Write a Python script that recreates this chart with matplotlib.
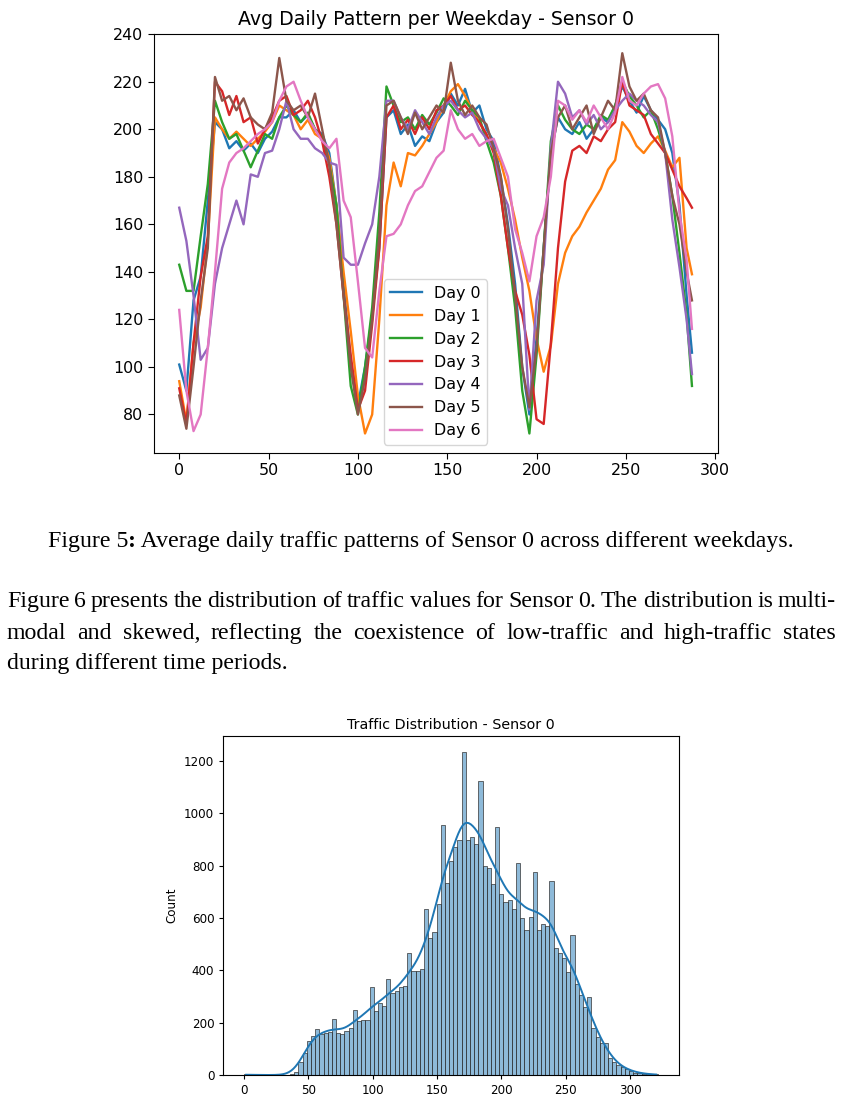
import numpy as np
import matplotlib
matplotlib.use('Agg')
import matplotlib.pyplot as plt
import seaborn as sns

# time index of the daily pattern (5 min steps), read every 4 steps
steps = list(range(0, 288, 4)) + [287]
day_labels = ['Day 0', 'Day 1', 'Day 2', 'Day 3', 'Day 4', 'Day 5', 'Day 6']

day0 = [101, 90, 128, 138, 170, 203, 200, 192,
        195, 191, 194, 190, 196, 199, 205, 205,
        208, 203, 206, 200, 198, 190, 168, 135,
        102, 84, 100, 122, 150, 205, 208, 198,
        202, 193, 197, 195, 203, 207, 215, 210,
        217, 207, 210, 200, 195, 180, 160, 135,
        100, 80, 112, 150, 190, 205, 200, 198,
        203, 196, 200, 205, 203, 210, 218, 212,
        207, 214, 208, 204, 200, 190, 168, 130,
        106]
day1 = [94, 77, 110, 125, 153, 205, 200, 196,
        199, 196, 193, 196, 199, 203, 210, 208,
        206, 200, 204, 198, 196, 188, 168, 140,
        115, 88, 72, 80, 120, 168, 186, 176,
        190, 189, 193, 198, 203, 210, 216, 219,
        214, 208, 203, 197, 192, 186, 175, 162,
        146, 132, 112, 98, 109, 135, 148, 155,
        159, 165, 170, 175, 183, 187, 203, 199,
        193, 190, 194, 197, 191, 184, 188, 150,
        139]
day2 = [143, 132, 132, 155, 177, 212, 203, 196,
        198, 191, 184, 191, 198, 196, 205, 210,
        206, 203, 207, 200, 197, 185, 168, 130,
        92, 80, 100, 125, 165, 218, 210, 203,
        205, 200, 206, 202, 207, 213, 210, 206,
        212, 208, 205, 195, 186, 172, 150, 125,
        90, 72, 105, 150, 195, 210, 204, 200,
        198, 202, 200, 206, 204, 210, 220, 214,
        210, 205, 208, 200, 190, 172, 148, 122,
        92]
day3 = [91, 76, 110, 138, 155, 220, 216, 206,
        214, 203, 205, 194, 200, 205, 212, 214,
        206, 208, 212, 205, 195, 180, 160, 130,
        105, 82, 90, 118, 150, 205, 210, 200,
        204, 198, 205, 200, 208, 210, 214, 208,
        210, 206, 203, 198, 190, 172, 150, 132,
        122, 105, 78, 76, 110, 150, 178, 191,
        193, 190, 197, 195, 200, 203, 220, 210,
        208, 206, 198, 194, 190, 183, 176, 171,
        167]
day4 = [167, 153, 130, 103, 108, 135, 150, 160,
        170, 160, 181, 180, 190, 191, 200, 212,
        200, 196, 196, 192, 190, 186, 185, 146,
        143, 143, 152, 160, 180, 212, 212, 205,
        200, 208, 203, 198, 205, 210, 212, 208,
        205, 207, 200, 196, 192, 175, 168, 150,
        135, 82, 128, 143, 192, 220, 215, 205,
        208, 202, 206, 200, 203, 208, 212, 215,
        212, 210, 206, 203, 190, 162, 142, 120,
        97]
day5 = [88, 74, 100, 128, 150, 222, 212, 214,
        208, 213, 205, 202, 200, 207, 230, 212,
        208, 210, 205, 215, 200, 185, 160, 130,
        100, 80, 95, 120, 155, 210, 212, 205,
        198, 207, 200, 205, 210, 207, 228, 212,
        206, 210, 205, 202, 192, 180, 158, 130,
        100, 83, 108, 150, 190, 205, 210, 200,
        205, 210, 198, 205, 212, 208, 232, 218,
        212, 215, 208, 205, 190, 172, 160, 140,
        128]
day6 = [124, 90, 73, 80, 108, 140, 175, 186,
        190, 192, 195, 198, 200, 203, 212, 218,
        220, 212, 205, 200, 195, 192, 196, 170,
        163, 136, 108, 104, 132, 155, 156, 160,
        168, 174, 176, 182, 188, 191, 208, 200,
        196, 198, 193, 195, 196, 188, 180, 158,
        148, 136, 155, 163, 180, 212, 210, 204,
        208, 203, 210, 205, 200, 207, 222, 212,
        210, 215, 218, 219, 213, 197, 165, 145,
        116]
days = [day0, day1, day2, day3, day4, day5, day6]

# traffic value histogram, 99 bins between 0 and 322
hist_min, hist_max = 0, 322
hist_counts = [5, 0, 0, 0, 0, 0, 0, 0, 0, 0,
               1, 5, 10, 50, 85, 130, 150, 175, 155, 160,
               165, 215, 162, 157, 167, 180, 250, 207, 212, 212,
               335, 243, 277, 262, 365, 312, 322, 338, 340, 465,
               398, 398, 405, 635, 522, 547, 653, 955, 735, 818,
               871, 897, 1235, 900, 911, 882, 1125, 799, 793, 729,
               948, 691, 662, 669, 636, 810, 599, 553, 602, 776,
               553, 576, 570, 742, 487, 466, 449, 392, 536, 347,
               305, 258, 300, 180, 146, 121, 121, 64, 48, 38,
               29, 23, 14, 9, 8, 5, 3, 2, 2]

caption = 'Average daily traffic patterns of Sensor 0 across different weekdays.'
para = ['Figure 6 presents the distribution of traffic values for Sensor 0. The distribution is multi-',
        'modal and skewed, reflecting the coexistence of low-traffic and high-traffic states',
        'during different time periods.']

W, H = 842, 1101
SERIF = 'Liberation Serif'


def justify(fig, renderer, line, ybase, x0, x1, size):
    # spread the words of one line so that it fills x0..x1
    words = line.split()
    texts = [fig.text(0, 1 - ybase / H, w, fontsize=size, family=SERIF, va='baseline') for w in words]
    widths = [t.get_window_extent(renderer).width for t in texts]
    gap = (x1 - x0 - sum(widths)) / (len(words) - 1)
    x = x0
    for t, w in zip(texts, widths):
        t.set_x(x / W)
        x += w + gap


def main():
    fig = plt.figure(figsize=(W / 100, H / 100), dpi=100)
    renderer = fig.canvas.get_renderer()

    # Figure 5: daily pattern per weekday
    ax1 = fig.add_axes([153.6 / W, 1 - 452.5 / H, 564 / W, 418.3 / H])
    for label, vals in zip(day_labels, days):
        ax1.plot(steps, vals, label=label, linewidth=1.7)
    ax1.set_title('Avg Daily Pattern per Weekday - Sensor 0', fontsize=13.7, pad=6.8)
    ax1.tick_params(labelsize=11.4, length=4)
    ax1.legend(loc='lower center', fontsize=11.4)

    # Figure 6: histogram with kde
    edges = np.linspace(hist_min, hist_max, len(hist_counts) + 1)
    centers = (edges[:-1] + edges[1:]) / 2
    values = np.repeat(centers, hist_counts)
    ax2 = fig.add_axes([223.3 / W, 1 - 1075 / H, 455.7 / W, 339.3 / H])
    sns.histplot(x=values, bins=edges, kde=True, ax=ax2, linewidth=0.5,
                 edgecolor='#333333', line_kws={'linewidth': 1.4})
    ax2.set_title('Traffic Distribution - Sensor 0', fontsize=10.3, pad=5)
    ax2.set_ylabel('Count', fontsize=8.6)
    ax2.tick_params(labelsize=8.6, length=3)

    # caption: "Figure 5" + bold ":" + rest, centered
    size = 17.2
    runs = [('Figure 5', 'normal'), (':', 'bold'), (' ' + caption, 'normal')]
    texts = [fig.text(0, 1 - 546.7 / H, s, fontsize=size, family=SERIF, weight=wt, va='baseline')
             for s, wt in runs]
    widths = [t.get_window_extent(renderer).width for t in texts]
    x = 421 - sum(widths) / 2
    for t, w in zip(texts, widths):
        t.set_x(x / W)
        x += w

    # paragraph, justified like the page
    justify(fig, renderer, para[0], 607.3, 7, 836, size)
    justify(fig, renderer, para[1], 638.8, 7, 836, size)
    fig.text(7 / W, 1 - 669.5 / H, para[2], fontsize=size, family=SERIF, va='baseline')

    fig.savefig('out.png', dpi=100)


if __name__ == "__main__":
    main()
